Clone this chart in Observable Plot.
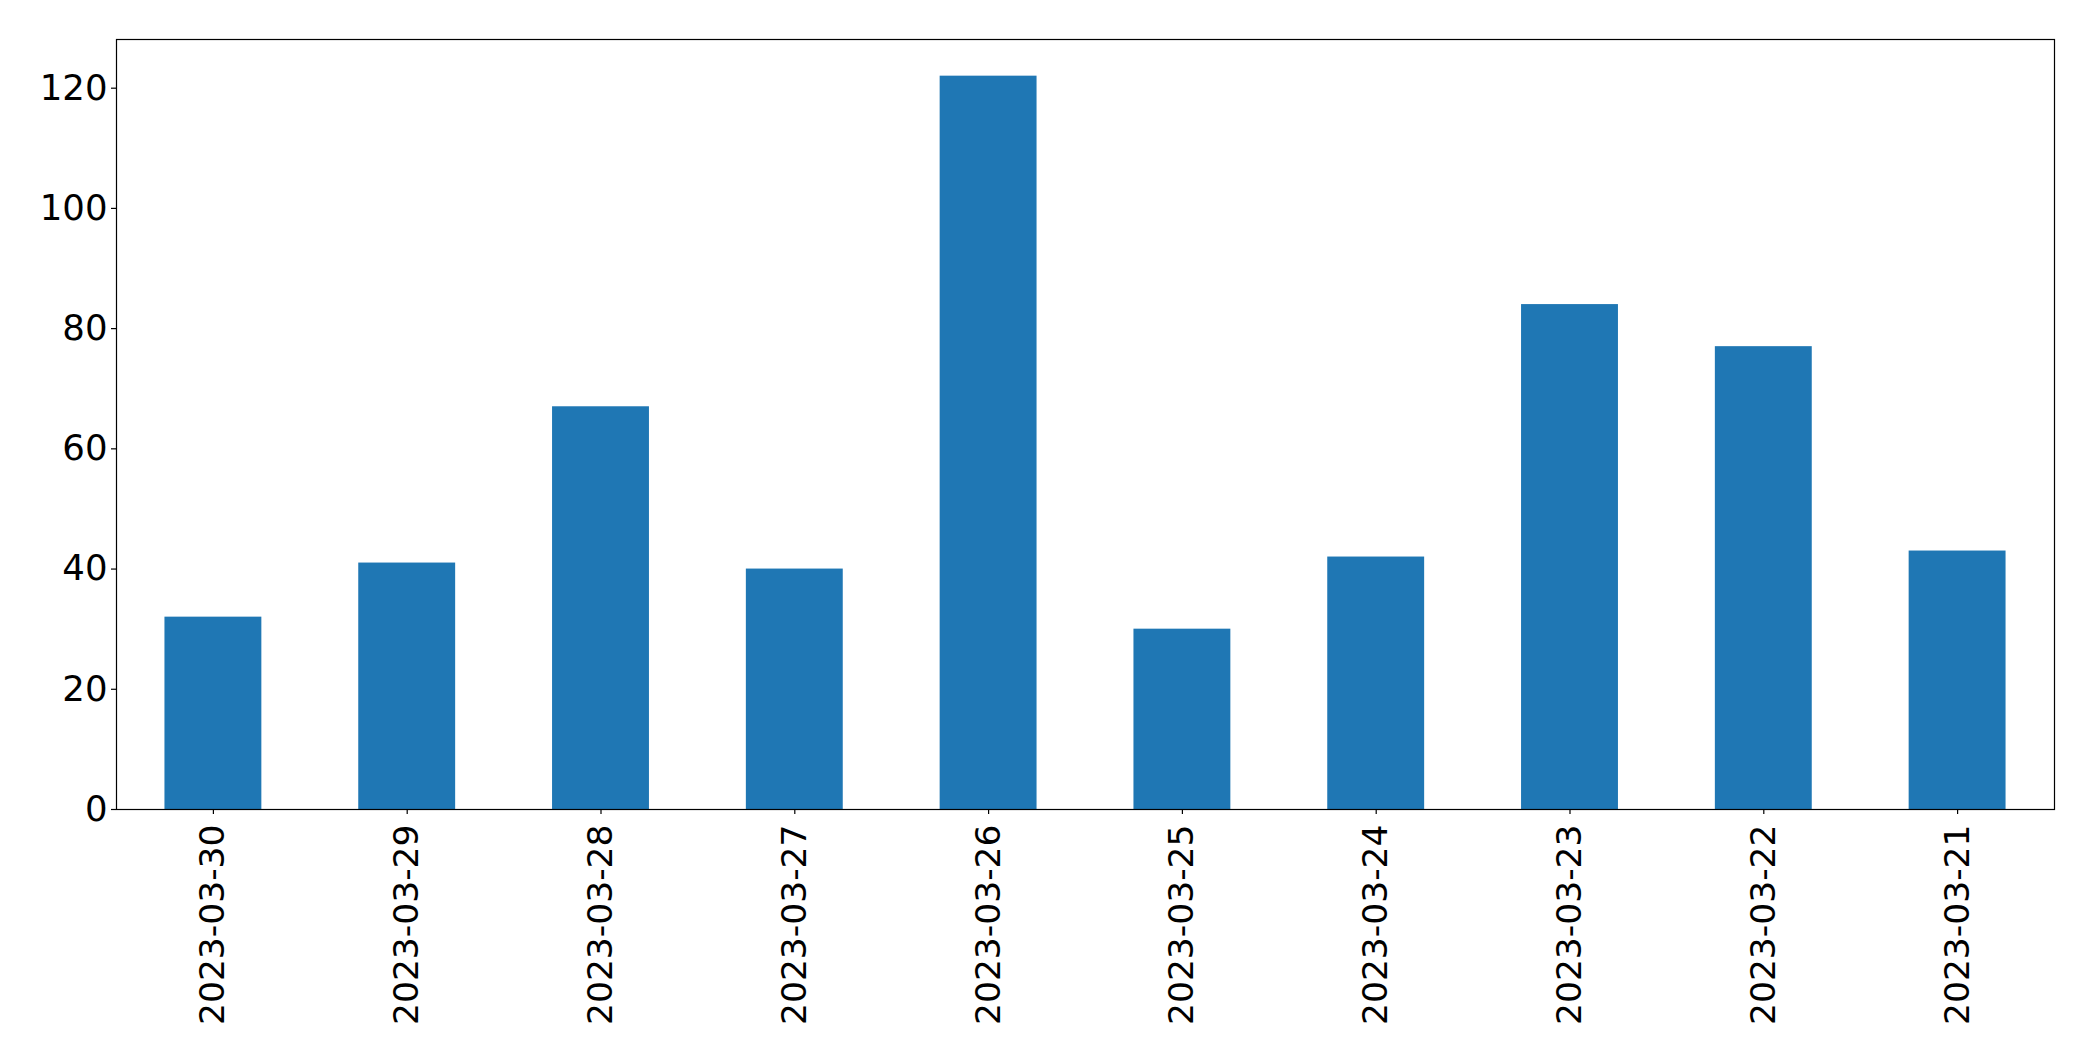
<!DOCTYPE html>
<html>
<head>
<meta charset="utf-8">
<script src="https://cdn.jsdelivr.net/npm/d3@7"></script>
<script src="https://cdn.jsdelivr.net/npm/@observablehq/plot@0.6"></script>
<style>
  html, body { margin: 0; padding: 0; background: #fff; }
  svg { display: block; }
</style>
</head>
<body>
<div id="chart"></div>
<script>
const dates = ["2023-03-30","2023-03-29","2023-03-28","2023-03-27","2023-03-26","2023-03-25","2023-03-24","2023-03-23","2023-03-22","2023-03-21"];
const counts = [32, 41, 67, 40, 122, 30, 42, 84, 77, 43];
const yTicks = [0, 20, 40, 60, 80, 100, 120];

const data = dates.map((d, i) => ({date: d, count: counts[i]}));

const chart = Plot.plot({
  width: 2093,
  height: 1061,
  marginLeft: 116,
  marginRight: 39,
  marginTop: 39,
  marginBottom: 252,
  style: {fontFamily: "DejaVu Sans", fontSize: "35px", color: "#000", background: "#fff"},
  x: {type: "band", domain: dates, paddingInner: 0.5, paddingOuter: 0.25, round: false, label: null},
  y: {domain: [0, 128.1], label: null},
  marks: [
    Plot.barY(data, {x: "date", y: "count", fill: "#1f77b4"}),
    Plot.axisY({ticks: yTicks, tickSize: 5, tickPadding: 4, fontSize: 35.5, label: null, stroke: "#000", strokeWidth: 1.2}),
    Plot.axisX({tickRotate: -90, tickSize: 5, tickPadding: 10, fontSize: 34.5, label: null, stroke: "#000", strokeWidth: 1.2}),
    Plot.frame({stroke: "#000", strokeWidth: 1.2})
  ]
});
document.getElementById("chart").appendChild(chart);
</script>
</body>
</html>
